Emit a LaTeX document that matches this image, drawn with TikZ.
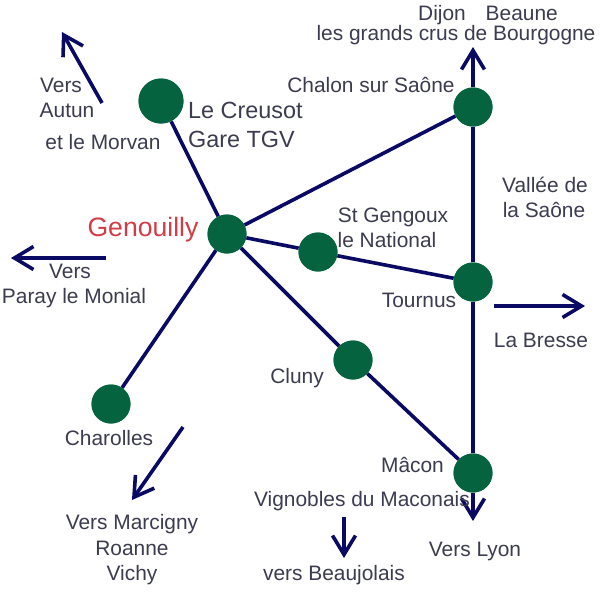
\documentclass[tikz,border=0pt]{standalone}
\usepackage{fontspec}
\setmainfont{Liberation Sans}
\usetikzlibrary{arrows.meta}
\definecolor{townc}{HTML}{05643F}
\definecolor{linec}{HTML}{0A0A64}
\definecolor{textc}{HTML}{3C3C50}
\definecolor{redc}{HTML}{D23C46}
\tikzset{
 town/.style={circle,fill=townc,draw=none,minimum size=#1,inner sep=0pt},
 town/.default=39pt,
 road/.style={draw=linec,line width=3.6pt},
 way/.style={draw=linec,line width=3.6pt,-{Straight Barb[length=19pt,width=23pt,line width=3.6pt]}},
 lab/.style={text=textc,font=\fontsize{20.9}{25}\selectfont,inner sep=0pt,text height=15pt,text depth=0pt},
 labbig/.style={lab,font=\fontsize{23.4}{29}\selectfont,anchor=west,text height=16.8pt},
 labred/.style={lab,text=redc,font=\fontsize{26.6}{30}\selectfont,text height=19pt},
}
\begin{document}
\begin{tikzpicture}[x=1pt,y=-1pt]
\useasboundingbox[fill=white] (0,0) rectangle (600,600);
\coordinate (nDijon) at (473,47);
\coordinate (sLyon) at (473,521);
\coordinate (eBresse) at (494,306);
\coordinate (eBresseEnd) at (585,306);
\coordinate (wParay) at (106,258);
\coordinate (wParayEnd) at (11,258);
\coordinate (aAutun) at (102,103);
\coordinate (aAutunEnd) at (62,32);
\coordinate (aRoanne) at (183,427);
\coordinate (aRoanneEnd) at (132,500);
\coordinate (aBeauj) at (344,517);
\coordinate (aBeaujEnd) at (344,558);

\node[town=45pt] (creusot) at (161,101) {};
\node[town] (genouilly) at (227,234) {};
\node[town] (chalon) at (473,107) {};
\node[town] (tournus) at (473,282) {};
\node[town] (gengoux) at (318,252) {};
\node[town] (cluny) at (353,360) {};
\node[town] (macon) at (473,473) {};
\node[town] (charolles) at (111,404) {};

\draw[road] (genouilly) -- (creusot);
\draw[road] (genouilly) -- (chalon);
\draw[road] (genouilly) -- (gengoux);
\draw[road] (gengoux) -- (tournus);
\draw[road] (genouilly) -- (cluny);
\draw[road] (cluny) -- (macon);
\draw[road] (genouilly) -- (charolles);
\draw[road] (chalon) -- (tournus);
\draw[road] (tournus) -- (macon);
\draw[way] (chalon) -- (nDijon);
\draw[way] (macon) -- (sLyon);
\draw[way] (eBresse) -- (eBresseEnd);
\draw[way] (wParay) -- (wParayEnd);
\draw[way] (aAutun) -- (aAutunEnd);
\draw[way] (aRoanne) -- (aRoanneEnd);
\draw[way] (aBeauj) -- (aBeaujEnd);

\node[lab] (tDijon) at (488,12.5) {Dijon\hspace{0.95em}Beaune};
\node[lab] (tCrus) at (456,33) {les grands crus de Bourgogne};
\node[lab] (tChalon) at (371,85) {Chalon sur Saône};
\node[labbig] (tCreusot) at (188,110) {Le Creusot};
\node[labbig] (tGare) at (188,139) {Gare TGV};
\node[lab] (tVers1) at (61,85) {Vers};
\node[lab] (tAutun) at (67,110) {Autun};
\node[lab] (tMorvan) at (103,142) {et le Morvan};
\node[lab] (tVallee) at (545,185) {Vallée de};
\node[lab] (tSaone) at (544,210) {la Saône};
\node[lab] (tGengoux) at (393,215) {St Gengoux};
\node[lab] (tNational) at (387,240) {le National};
\node[labred] (tGenouilly) at (143,226.5) {Genouilly};
\node[lab] (tVers2) at (70,271) {Vers};
\node[lab] (tParay) at (74,296) {Paray le Monial};
\node[lab] (tTournus) at (419,300) {Tournus};
\node[lab] (tBresse) at (541,340) {La Bresse};
\node[lab] (tCluny) at (297,376) {Cluny};
\node[lab] (tCharolles) at (109,437.5) {Charolles};
\node[lab] (tMacon) at (412.5,465) {Mâcon};
\node[lab] (tVignobles) at (362,499) {Vignobles du Maconais};
\node[lab] (tLyon) at (475,549) {Vers Lyon};
\node[lab] (tVbeauj) at (334,573) {vers Beaujolais};
\node[lab] (tMarcigny) at (132,521.5) {Vers Marcigny};
\node[lab] (tRoanne) at (132,547.5) {Roanne};
\node[lab] (tVichy) at (132,572.5) {Vichy};

\node[town] at (genouilly) {};
\node[town] at (chalon) {};
\node[town] at (tournus) {};
\node[town] at (gengoux) {};
\node[town] at (cluny) {};
\node[town] at (macon) {};
\node[town] at (charolles) {};
\node[town=45pt] at (creusot) {};
\end{tikzpicture}
\end{document}
